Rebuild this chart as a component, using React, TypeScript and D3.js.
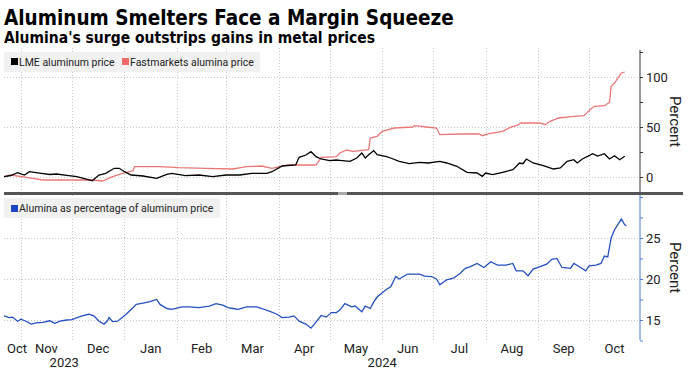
import React, { useRef, useEffect } from "react";
import * as d3 from "d3";

// LME aluminum price, % change since start
const lmePrice: [string, number][] = [
	["2023-10-22", 0.3], ["2023-10-26", 1.5], ["2023-10-30", 4.3], ["2023-11-03", 2], ["2023-11-06", 5.3],
	["2023-11-13", 3.7], ["2023-11-18", 2.5], ["2023-11-22", 3], ["2023-11-28", 1.7], ["2023-12-04", 0.3],
	["2023-12-10", -2.3], ["2023-12-13", -3.7], ["2023-12-17", 2], ["2023-12-21", 3.7], ["2023-12-26", 8.7],
	["2023-12-29", 8.7], ["2024-01-01", 5.3], ["2024-01-05", 2], ["2024-01-12", 1], ["2024-01-20", -1.3],
	["2024-01-26", 2.7], ["2024-01-29", 3.7], ["2024-02-06", 1.3], ["2024-02-14", 2], ["2024-02-22", 0.3],
	["2024-03-01", 2], ["2024-03-09", 2], ["2024-03-16", 3.7], ["2024-03-25", 3.7], ["2024-03-28", 5.3],
	["2024-04-03", 11], ["2024-04-11", 12], ["2024-04-13", 19.7], ["2024-04-17", 22], ["2024-04-20", 25.3],
	["2024-04-23", 20.3], ["2024-04-26", 18], ["2024-05-01", 16.3], ["2024-05-05", 17], ["2024-05-07", 16.7],
	["2024-05-13", 15.7], ["2024-05-17", 19], ["2024-05-20", 24], ["2024-05-22", 19], ["2024-05-24", 22.3],
	["2024-05-27", 26.3], ["2024-05-29", 22.3], ["2024-06-03", 20.7], ["2024-06-06", 19], ["2024-06-11", 15.7],
	["2024-06-17", 13.3], ["2024-06-23", 14.7], ["2024-06-28", 14], ["2024-07-05", 15.7], ["2024-07-09", 14],
	["2024-07-15", 10.7], ["2024-07-21", 4.7], ["2024-07-27", 4], ["2024-07-30", 0.7], ["2024-08-01", 4],
	["2024-08-05", 2.3], ["2024-08-11", 4.7], ["2024-08-17", 7.3], ["2024-08-21", 14], ["2024-08-23", 13.3],
	["2024-08-25", 18], ["2024-08-29", 14], ["2024-09-04", 11.3], ["2024-09-10", 8], ["2024-09-14", 9],
	["2024-09-18", 15.7], ["2024-09-22", 17.3], ["2024-09-24", 14], ["2024-09-27", 18], ["2024-10-01", 21.3],
	["2024-10-03", 23.3], ["2024-10-06", 21], ["2024-10-10", 23.3], ["2024-10-13", 18], ["2024-10-16", 21.3],
	["2024-10-19", 17.3], ["2024-10-22", 20.7],
];

// Fastmarkets alumina price, % change since start
const aluminaPrice: [string, number][] = [
	["2023-10-22", 0.3], ["2023-10-26", 2], ["2023-11-08", -1.3], ["2023-11-14", -3], ["2023-11-28", -3],
	["2023-12-13", -3], ["2023-12-19", -4], ["2023-12-25", 0.3], ["2023-12-31", 3.7], ["2024-01-04", 5.3],
	["2024-01-06", 6], ["2024-01-07", 10.3], ["2024-01-22", 10.3], ["2024-02-02", 9.3], ["2024-02-18", 8.7],
	["2024-03-05", 8], ["2024-03-13", 10.3], ["2024-03-22", 11], ["2024-03-28", 8.7], ["2024-04-06", 12],
	["2024-04-23", 12], ["2024-04-26", 19.7], ["2024-05-05", 20.3], ["2024-05-07", 24], ["2024-05-11", 27],
	["2024-05-15", 25.7], ["2024-05-24", 27.3], ["2024-05-25", 39], ["2024-05-29", 40.7], ["2024-06-01", 45.7],
	["2024-06-08", 49], ["2024-06-19", 50], ["2024-06-20", 51.3], ["2024-06-27", 50], ["2024-07-03", 49],
	["2024-07-05", 42.3], ["2024-07-17", 43], ["2024-07-28", 43], ["2024-07-30", 41.3], ["2024-08-03", 43.3],
	["2024-08-11", 45.7], ["2024-08-16", 50], ["2024-08-19", 51.3], ["2024-08-22", 54], ["2024-09-02", 54],
	["2024-09-05", 52.3], ["2024-09-08", 55.7], ["2024-09-13", 59], ["2024-09-22", 60.7], ["2024-09-28", 61.3],
	["2024-10-02", 68], ["2024-10-04", 70.7], ["2024-10-10", 71.3], ["2024-10-13", 74.7], ["2024-10-14", 90.7],
	["2024-10-16", 94], ["2024-10-20", 104], ["2024-10-22", 105],
];

// Alumina as percentage of aluminum price
const aluminaShare: [string, number][] = [
	["2023-10-22", 15.5], ["2023-10-25", 15.3], ["2023-10-27", 15.35], ["2023-10-30", 14.85], ["2023-11-01", 15.1],
	["2023-11-04", 14.85], ["2023-11-07", 14.5], ["2023-11-10", 14.65], ["2023-11-14", 14.7], ["2023-11-18", 14.9],
	["2023-11-21", 14.6], ["2023-11-24", 14.85], ["2023-11-28", 15], ["2023-12-01", 15.05], ["2023-12-07", 15.5],
	["2023-12-11", 15.7], ["2023-12-14", 15.5], ["2023-12-17", 14.85], ["2023-12-20", 14.5], ["2023-12-22", 14.9],
	["2023-12-23", 15.3], ["2023-12-25", 14.8], ["2023-12-28", 14.85], ["2024-01-02", 15.7], ["2024-01-06", 16.5],
	["2024-01-08", 16.9], ["2024-01-12", 17.05], ["2024-01-16", 17.25], ["2024-01-20", 17.5], ["2024-01-22", 16.9],
	["2024-01-26", 16.4], ["2024-01-29", 16.3], ["2024-02-04", 16.6], ["2024-02-08", 16.6], ["2024-02-14", 16.5],
	["2024-02-20", 16.7], ["2024-02-24", 17], ["2024-02-28", 16.8], ["2024-03-02", 16.5], ["2024-03-05", 16.4],
	["2024-03-08", 16.3], ["2024-03-13", 16.6], ["2024-03-19", 16.6], ["2024-03-22", 16.4], ["2024-03-26", 16.1],
	["2024-03-31", 15.7], ["2024-04-03", 15.3], ["2024-04-07", 15.35], ["2024-04-10", 15.5], ["2024-04-13", 14.85],
	["2024-04-17", 14.5], ["2024-04-20", 14.0], ["2024-04-22", 14.5], ["2024-04-26", 15.55], ["2024-04-29", 15.35],
	["2024-05-02", 15.9], ["2024-05-05", 15.9], ["2024-05-07", 16.2], ["2024-05-10", 17], ["2024-05-14", 16.6],
	["2024-05-16", 16.7], ["2024-05-20", 16.0], ["2024-05-22", 16.7], ["2024-05-25", 16.4], ["2024-05-27", 17.2],
	["2024-05-29", 17.8], ["2024-06-03", 18.65], ["2024-06-06", 19.05], ["2024-06-09", 20.3], ["2024-06-11", 20],
	["2024-06-16", 20.6], ["2024-06-23", 20.6], ["2024-06-26", 20.35], ["2024-06-30", 20.3], ["2024-07-03", 20],
	["2024-07-05", 19.3], ["2024-07-09", 19.9], ["2024-07-13", 20.1], ["2024-07-17", 20.7], ["2024-07-20", 21.3],
	["2024-07-23", 21.5], ["2024-07-27", 21.9], ["2024-07-31", 21.4], ["2024-08-04", 22.1], ["2024-08-08", 21.7],
	["2024-08-13", 21.7], ["2024-08-17", 21.9], ["2024-08-19", 21.0], ["2024-08-23", 21.0], ["2024-08-26", 20.4],
	["2024-08-29", 21.2], ["2024-09-02", 21.5], ["2024-09-06", 21.8], ["2024-09-09", 22.4], ["2024-09-12", 22.5],
	["2024-09-15", 21.4], ["2024-09-20", 21.3], ["2024-09-22", 21.9], ["2024-09-26", 21.4], ["2024-09-29", 21.0],
	["2024-10-01", 21.6], ["2024-10-05", 21.7], ["2024-10-08", 21.9], ["2024-10-10", 22.8], ["2024-10-12", 22.7],
	["2024-10-14", 25], ["2024-10-16", 26], ["2024-10-20", 27.3], ["2024-10-22", 26.6], ["2024-10-23", 26.5],
];

const topTicks = [0, 50, 100];
const bottomTicks = [15, 20, 25];
const topLegend = ["LME aluminum price", "Fastmarkets alumina price"];
const bottomLegend = ["Alumina as percentage of aluminum price"];
const dateRange = ["2023-10-22", "2024-10-31"];

const FONT = "Roboto, sans-serif";
const TITLE_FONT = "'DejaVu Sans Condensed', 'DejaVu Sans', sans-serif";

const App = () => {
	const chartRef = useRef<SVGSVGElement>(null);

	useEffect(() => {
		const width = 694;
		const height = 372;
		const left = 4;
		const right = 640;
		const topPanel = { top: 50, bottom: 193 };
		const botPanel = { top: 195, bottom: 340 };

		const svg = d3.select(chartRef.current);
		svg.selectAll("*").remove();
		svg.attr("width", width).attr("height", height);

		const parse = d3.timeParse("%Y-%m-%d");
		const start = parse(dateRange[0])!;
		const end = parse(dateRange[1])!;

		const x = d3.scaleTime().domain([start, end]).range([left, right]);
		const yTop = d3.scaleLinear().domain([-16, 127]).range([topPanel.bottom, topPanel.top]);
		const yBot = d3.scaleLinear().domain([12.56, 30.24]).range([botPanel.bottom, botPanel.top]);

		// titles
		svg.append("text")
			.attr("x", 4).attr("y", 25)
			.attr("font-family", TITLE_FONT).attr("font-stretch", "condensed")
			.attr("font-weight", 700).attr("font-size", 20.5)
			.attr("fill", "#000")
			.text("Aluminum Smelters Face a Margin Squeeze");
		svg.append("text")
			.attr("x", 4).attr("y", 43)
			.attr("font-family", TITLE_FONT).attr("font-stretch", "condensed")
			.attr("font-weight", 700).attr("font-size", 15.5)
			.attr("fill", "#000")
			.text("Alumina's surge outstrips gains in metal prices");

		const grid = svg.append("g")
			.attr("stroke", "#c8c8c8").attr("stroke-width", 1).attr("stroke-dasharray", "1,2");

		// vertical month grid
		const monthStarts = d3.timeMonths(d3.timeMonth.ceil(start), end);
		monthStarts.forEach(m => {
			const xp = Math.round(x(m)) + 0.5;
			grid.append("line").attr("x1", xp).attr("x2", xp).attr("y1", 48).attr("y2", 342);
		});
		topTicks.forEach(t => {
			const yp = Math.round(yTop(t)) + 0.5;
			grid.append("line").attr("x1", left).attr("x2", right).attr("y1", yp).attr("y2", yp);
		});
		bottomTicks.forEach(t => {
			const yp = Math.round(yBot(t)) + 0.5;
			grid.append("line").attr("x1", left).attr("x2", right).attr("y1", yp).attr("y2", yp);
		});

		// legends
		const legendTop = svg.append("g");
		legendTop.append("rect").attr("x", 4).attr("y", 52).attr("width", 256).attr("height", 20)
			.attr("fill", "#f0f0f0").attr("opacity", 0.9);
		const topColors = ["#000000", "#f06a6a"];
		const topLegendX = [11, 122];
		topLegend.forEach((label, i) => {
			legendTop.append("rect").attr("x", topLegendX[i]).attr("y", 58).attr("width", 7).attr("height", 7)
				.attr("fill", topColors[i]);
			legendTop.append("text").attr("x", topLegendX[i] + 8).attr("y", 66)
				.attr("font-family", FONT).attr("font-size", 10.5).attr("fill", "#222")
				.text(label);
		});

		const legendBot = svg.append("g");
		legendBot.append("rect").attr("x", 4).attr("y", 198).attr("width", 216).attr("height", 20)
			.attr("fill", "#f0f0f0").attr("opacity", 0.9);
		legendBot.append("rect").attr("x", 11).attr("y", 205).attr("width", 7).attr("height", 7)
			.attr("fill", "#1a45c4");
		legendBot.append("text").attr("x", 19).attr("y", 212)
			.attr("font-family", FONT).attr("font-size", 10.5).attr("fill", "#222")
			.text(bottomLegend[0]);

		// lines
		const lineTop = d3.line<[string, number]>()
			.x(d => x(parse(d[0])!))
			.y(d => yTop(d[1]));
		const lineBot = d3.line<[string, number]>()
			.x(d => x(parse(d[0])!))
			.y(d => yBot(d[1]));

		svg.append("path").datum(aluminaPrice)
			.attr("d", lineTop).attr("fill", "none")
			.attr("stroke", "#eb7878").attr("stroke-width", 1.3);
		svg.append("path").datum(lmePrice)
			.attr("d", lineTop).attr("fill", "none")
			.attr("stroke", "#000").attr("stroke-width", 1.3);
		svg.append("path").datum(aluminaShare)
			.attr("d", lineBot).attr("fill", "none")
			.attr("stroke", "#2450c0").attr("stroke-width", 1.3);

		// panel separator
		svg.append("rect").attr("x", left).attr("y", 192).attr("width", 679).attr("height", 3).attr("fill", "#555");
		svg.append("rect").attr("x", 338).attr("y", 192).attr("width", 9).attr("height", 3).attr("fill", "#aaa");

		// right axes
		const axisTop = d3.axisRight(yTop).tickValues([0, 25, 50, 75, 100, 125]).tickSize(3).tickFormat(() => "");
		const gTop = svg.append("g").attr("transform", `translate(${right},0)`).call(axisTop);
		gTop.select(".domain").attr("d", `M0,${topPanel.top}V${topPanel.bottom - 1}`).attr("stroke", "#333");
		gTop.selectAll(".tick line").attr("stroke", "#333");

		const axisBot = d3.axisRight(yBot).tickValues([12.5, 15, 17.5, 20, 22.5, 25, 27.5, 30]).tickSize(3).tickFormat(() => "");
		const gBot = svg.append("g").attr("transform", `translate(${right},0)`).call(axisBot);
		gBot.select(".domain").attr("d", `M0,${botPanel.top}V${botPanel.bottom}`).attr("stroke", "#4a7ad8");
		gBot.selectAll(".tick line").attr("stroke", "#4a7ad8");

		topTicks.forEach(t => {
			svg.append("text").attr("x", 646).attr("y", yTop(t)).attr("dy", "0.35em")
				.attr("font-family", FONT).attr("font-size", 13).attr("fill", "#222").text(t);
		});
		bottomTicks.forEach(t => {
			svg.append("text").attr("x", 646).attr("y", yBot(t)).attr("dy", "0.35em")
				.attr("font-family", FONT).attr("font-size", 13).attr("fill", "#222").text(t);
		});

		[(topPanel.top + topPanel.bottom) / 2, (botPanel.top + botPanel.bottom) / 2].forEach(cy => {
			svg.append("text")
				.attr("transform", `translate(670,${cy}) rotate(90)`)
				.attr("text-anchor", "middle")
				.attr("font-family", FONT).attr("font-size", 15).attr("fill", "#222")
				.text("Percent");
		});

		// month labels, centred in the visible part of each month
		const fmtMonth = d3.timeFormat("%b");
		d3.timeMonths(d3.timeMonth.floor(start), end).forEach(m => {
			const a = Math.max(x(m), left);
			const b = Math.min(x(d3.timeMonth.offset(m, 1)), right);
			const cx = Math.max((a + b) / 2, left + 13);
			svg.append("text").attr("x", cx).attr("y", 353).attr("text-anchor", "middle")
				.attr("font-family", FONT).attr("font-size", 13).attr("fill", "#222")
				.text(fmtMonth(m));
		});
		d3.timeYears(d3.timeYear.floor(start), end).forEach(yr => {
			const a = Math.max(x(yr), left);
			const b = Math.min(x(d3.timeYear.offset(yr, 1)), right);
			svg.append("text").attr("x", (a + b) / 2).attr("y", 367).attr("text-anchor", "middle")
				.attr("font-family", FONT).attr("font-size", 13).attr("fill", "#222")
				.text(d3.timeFormat("%Y")(yr));
		});
	}, []);

	return <svg ref={chartRef} style={{ position: "absolute", left: 0, top: 0, background: "#fff" }}></svg>;
};

export default App;
